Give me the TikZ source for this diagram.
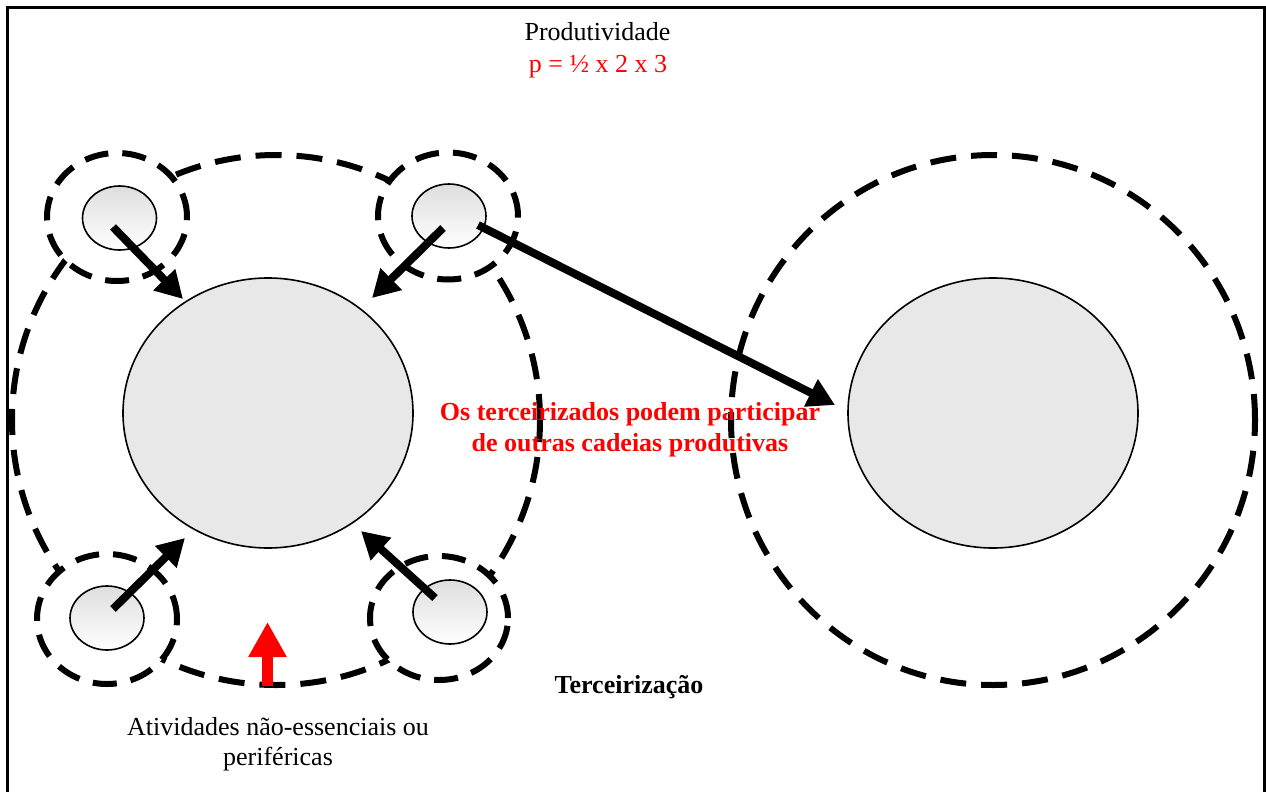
\documentclass[tikz,border=0pt]{standalone}
\usepackage{fontspec}
\setmainfont{Liberation Serif}
\usetikzlibrary{shapes.geometric,arrows.meta}
\definecolor{gfill}{RGB}{232,232,232}
\definecolor{pred}{RGB}{255,0,0}
\begin{document}
\begin{tikzpicture}[x=1pt,y=-1pt,
  bigdash/.style={ellipse, draw, line width=6pt, dash pattern=on 26pt off 15pt, inner sep=0pt},
  ringdash/.style={ellipse, draw, fill=white, line width=6pt, dash pattern=on 24pt off 14pt, inner sep=0pt},
  core/.style={ellipse, draw, fill=gfill, line width=1.6pt, inner sep=0pt, minimum width=290pt, minimum height=270pt},
  small/.style={ellipse, draw, line width=1.6pt, top color=black!13, bottom color=white, inner sep=0pt, minimum width=74pt, minimum height=64pt},
  blkarrow/.style={line width=8pt, -{Triangle[length=27pt,width=29pt]}},
  redarrow/.style={line width=11pt, draw=pred, -{Triangle[length=35pt,width=36pt]}},
  txt/.style={font=\fontsize{26}{31}\selectfont, inner sep=0pt, anchor=base},
  btxt/.style={font=\fontsize{26}{31}\selectfont\bfseries, inner sep=0pt, anchor=base}]
\useasboundingbox (0,0) rectangle (1266,792);
% frame
\coordinate (f1) at (7.5,800);
\coordinate (f2) at (7.5,8);
\coordinate (f3) at (1264,8);
\coordinate (f4) at (1264,800);
\draw[line width=3pt] (f1) -- (f2) -- (f3) -- (f4);
% big dashed ellipses
\node[bigdash, minimum width=528pt, minimum height=530pt] (outerL) at (276,420) {};
\node[bigdash, minimum width=524pt, minimum height=530pt] (outerR) at (993,420) {};
% core ellipses
\node[core] (coreL) at (268,413) {};
\node[core] (coreR) at (993,413) {};
% rings
\node[ringdash, minimum width=140pt, minimum height=128pt] (ringTL) at (117,217) {};
\node[ringdash, minimum width=140pt, minimum height=127pt] (ringTR) at (448,216) {};
\node[ringdash, minimum width=140pt, minimum height=130pt] (ringBL) at (107,619) {};
\node[ringdash, minimum width=138pt, minimum height=124pt] (ringBR) at (439,618) {};
% small circles
\node[small] (sTL) at (119.5,218) {};
\node[small] (sTR) at (449,216) {};
\node[small] (sBL) at (107,618) {};
\node[small] (sBR) at (450,612) {};
% arrow end points
\coordinate (aTL1) at (113,227);
\coordinate (aTL2) at (183,299);
\coordinate (aTR1) at (443,228);
\coordinate (aTR2) at (372,298);
\coordinate (aBL1) at (113,609);
\coordinate (aBL2) at (185,538);
\coordinate (aBR1) at (435,598);
\coordinate (aBR2) at (361,531);
\coordinate (aL1) at (478,225);
\coordinate (aL2) at (835,405);
\coordinate (r1) at (267.5,686);
\coordinate (r2) at (267.5,622);
\draw[blkarrow] (aTL1) -- (aTL2);
\draw[blkarrow] (aTR1) -- (aTR2);
\draw[blkarrow] (aBL1) -- (aBL2);
\draw[blkarrow] (aBR1) -- (aBR2);
\draw[blkarrow] (aL1) -- (aL2);
\draw[redarrow] (r1) -- (r2);
% texts
\node[txt] (t1) at (597.5,41) {Produtividade};
\node[txt, text=pred] (t2) at (598,72) {p = ½ x 2 x 3};
\node[btxt, text=pred] (t3) at (630,420) {Os terceirizados podem participar};
\node[btxt, text=pred] (t4) at (630,451) {de outras cadeias produtivas};
\node[btxt] (t5) at (629,693) {Terceirização};
\node[txt] (t6) at (278,735) {Atividades não-essenciais ou};
\node[txt] (t7) at (278,765) {periféricas};
\end{tikzpicture}
\end{document}
